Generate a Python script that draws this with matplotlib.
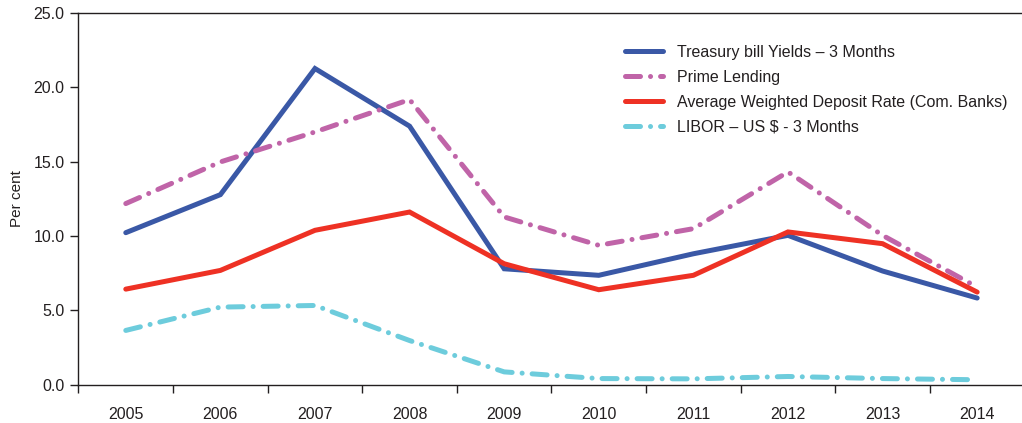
import matplotlib
matplotlib.use("Agg")
import matplotlib.pyplot as plt
import numpy as np

years = ["2005", "2006", "2007", "2008", "2009", "2010", "2011", "2012", "2013", "2014"]

treasury = [10.22, 12.78, 21.27, 17.39, 7.79, 7.35, 8.80, 10.04, 7.64, 5.82]
prime = [12.18, 14.98, 17.00, 19.18, 11.28, 9.37, 10.49, 14.31, 10.04, 6.56]
deposit = [6.42, 7.68, 10.38, 11.61, 8.13, 6.38, 7.35, 10.27, 9.48, 6.22]
libor = [3.64, 5.21, 5.32, 2.96, 0.85, 0.40, 0.38, 0.54, 0.40, 0.32]

labels = ["Treasury bill Yields \u2013 3 Months", "Prime Lending",
          "Average Weighted Deposit Rate (Com. Banks)", "LIBOR \u2013 US $ - 3 Months"]

plt.rcParams['font.family'] = ['Liberation Sans', 'DejaVu Sans']
txt = '#231F20'
fs = 11.5

fig = plt.figure(figsize=(10.22, 4.23), dpi=100)
ax = fig.add_axes([0.0768, 0.091, 0.9256, 0.878])

x = np.arange(len(years))
lw = 3.6
dd = (3.0, 2.0, 0.01, 2.0)

ax.plot(x, treasury, color='#3A58A6', lw=lw, solid_capstyle='round', solid_joinstyle='miter', label=labels[0])
ax.plot(x, prime, color='#C064A8', lw=lw, dashes=dd, dash_capstyle='round', label=labels[1])
ax.plot(x, deposit, color='#EE3124', lw=lw, solid_capstyle='round', solid_joinstyle='miter', label=labels[2])
ax.plot(x, libor, color='#6DCCDC', lw=lw, dashes=dd, dash_capstyle='round', label=labels[3])

ax.set_xlim(-0.5, 9.5)
ax.set_ylim(0, 25)
ax.set_yticks(np.arange(0, 25.1, 5))
ax.set_yticklabels(["%.1f" % v for v in np.arange(0, 25.1, 5)])

ax.set_xticks(np.arange(-0.5, 9.0, 1.0))
ax.set_xticklabels([])
ax.set_xticks(x, minor=True)
ax.set_xticklabels(years, minor=True)
ax.tick_params(axis='x', which='major', length=6, width=1, color=txt, direction='out')
ax.tick_params(axis='x', which='minor', length=0, pad=16, labelsize=fs, labelcolor=txt)
ax.tick_params(axis='y', length=6, width=1, color=txt, pad=4, labelsize=fs, labelcolor=txt)

for s in ['left', 'bottom', 'top']:
    ax.spines[s].set_color(txt)
    ax.spines[s].set_linewidth(1)
ax.spines['right'].set_visible(False)

ax.set_ylabel("Per cent", fontsize=11, color=txt, labelpad=7)

leg = ax.legend(loc='upper left', bbox_to_anchor=(0.597, 0.928), bbox_transform=fig.transFigure,
                frameon=False, fontsize=fs, handlelength=2.4, handletextpad=0.87,
                labelspacing=0.62)
for t in leg.get_texts():
    t.set_color(txt)

fig.savefig("out.png", dpi=100)
